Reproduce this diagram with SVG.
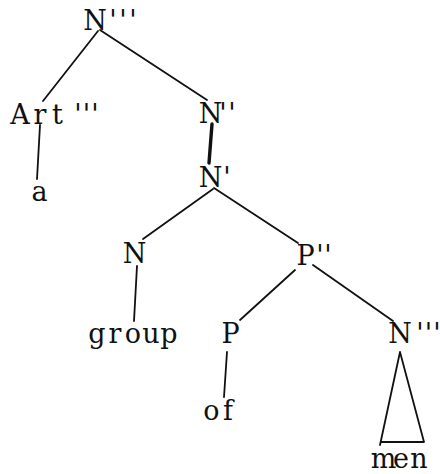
<svg xmlns="http://www.w3.org/2000/svg" width="440" height="474" viewBox="0 0 440 474">
<style>
text{font-family:"DejaVu Serif","Liberation Serif",serif;font-size:27px;fill:#111;text-anchor:middle}
.e line,.e path{stroke:#111;stroke-width:1.8;fill:none;stroke-linecap:round;stroke-linejoin:round}
</style>
<rect width="440" height="474" fill="#fff"/>
<g class="e" id="connectors">
<line x1="98" y1="31" x2="43" y2="101"/>
<line x1="100" y1="30" x2="207" y2="100"/>
<line x1="40" y1="125" x2="37" y2="179"/>
<line x1="212" y1="124" x2="209" y2="163" style="stroke-width:3.4"/>
<line x1="213" y1="189" x2="143" y2="239"/>
<line x1="214" y1="188" x2="298" y2="243"/>
<line x1="137" y1="266" x2="134" y2="321"/>
<line x1="295" y1="270" x2="240" y2="320"/>
<line x1="313" y1="265" x2="393" y2="321"/>
<line x1="227" y1="352" x2="224" y2="397"/>
<path d="M380,445 L400,352 L424,442 M382,442 L424,442"/>
</g>
<g id="n-top"><text x="95 113 123 133" y="30">N'''</text></g>
<g id="n-art"><text x="20 40 57.5 78 86.5 95" y="124">Art'''</text></g>
<g id="n-a"><text x="39.5" y="201">a</text></g>
<g id="n-n2"><text x="210.5 223 232" y="123">N''</text></g>
<g id="n-n1"><text x="210.5 227" y="187">N'</text></g>
<g id="n-n"><text x="134.5" y="263">N</text></g>
<g id="n-p2"><text x="305.5 320 328" y="265">P''</text></g>
<g id="n-group"><text x="97 115 133 151 169" y="343">group</text></g>
<g id="n-p"><text x="230.5" y="343">P</text></g>
<g id="n-n3"><text x="400 420 428.5 437" y="343">N'''</text></g>
<g id="n-of"><text x="211.5 228" y="420">of</text></g>
<g id="n-men"><text x="383.5 401 419" y="468">men</text></g>
</svg>
